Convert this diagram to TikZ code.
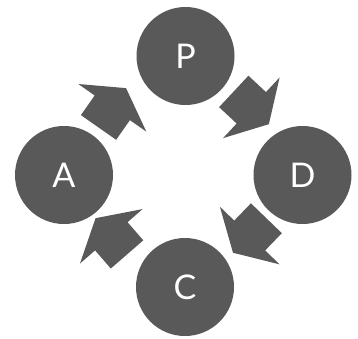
\documentclass[tikz,border=0pt]{standalone}
\usepackage{fontspec}
\setmainfont{Lato}
\definecolor{shapegray}{RGB}{89,89,89}
\tikzset{
  stage/.style={circle, fill=shapegray, draw=none, minimum size=98pt, inner sep=0pt,
    text=white, font=\fontsize{34}{40}\selectfont},
  blockfill/.style={fill=shapegray}
}
\newcommand\blockarrow[2]{%
  \fill[blockfill, shift={#1}, rotate=#2]
    (-24,21.5) -- (0,21.5) -- (0,41.5) -- (24,0) -- (0,-41.5) -- (0,-21.5) -- (-24,-21.5) -- cycle;}
\begin{document}
\begin{tikzpicture}[x=1pt,y=1pt]
\useasboundingbox (0,0) rectangle (358,338);
\node[stage] (P) at (185.5,282) {P};
\node[stage] (A) at (64,163) {A};
\node[stage] (D) at (302.5,163) {D};
\node[stage] (C) at (185,51) {C};
\blockarrow{(112.3,230.2)}{55}
\blockarrow{(251.3,230.2)}{-43}
\blockarrow{(249.7,102.5)}{-134}
\blockarrow{(111.3,101.7)}{131}
\end{tikzpicture}
\end{document}
